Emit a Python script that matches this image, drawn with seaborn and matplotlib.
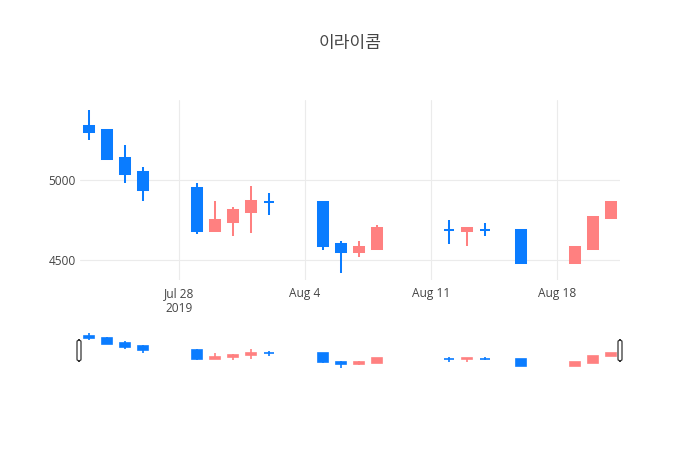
import numpy as np
import pandas as pd
import matplotlib
matplotlib.use("Agg")
import matplotlib.pyplot as plt
import matplotlib.dates as mdates
from matplotlib.patches import FancyBboxPatch
import seaborn as sns

# ---- data ----
dates = ['2019-07-23', '2019-07-24', '2019-07-25', '2019-07-26', '2019-07-29',
         '2019-07-30', '2019-07-31', '2019-08-01', '2019-08-02', '2019-08-05',
         '2019-08-06', '2019-08-07', '2019-08-08', '2019-08-12', '2019-08-13',
         '2019-08-14', '2019-08-16', '2019-08-19', '2019-08-20', '2019-08-21']
open_ = [5340, 5310, 5140, 5050, 4950, 4680, 4740, 4800, 4860, 4860,
         4600, 4550, 4570, 4690, 4680, 4690, 4690, 4480, 4570, 4760]
high = [5440, 5320, 5220, 5080, 4980, 4870, 4830, 4960, 4920, 4860,
        4620, 4620, 4720, 4750, 4700, 4730, 4690, 4580, 4770, 4860]
low = [5250, 5130, 4980, 4870, 4660, 4680, 4650, 4670, 4780, 4560,
       4420, 4520, 4570, 4600, 4590, 4650, 4480, 4480, 4570, 4760]
close = [5300, 5130, 5040, 4940, 4680, 4750, 4810, 4870, 4860, 4590,
         4550, 4580, 4700, 4690, 4700, 4690, 4480, 4580, 4770, 4860]
title = "이라이콤"
yticks = [4500, 5000]
xtick_dates = ['2019-07-28', '2019-08-04', '2019-08-11', '2019-08-18']
xtick_labels = ['Jul 28\n2019', 'Aug 4', 'Aug 11', 'Aug 18']

INC = '#FF8080'
DEC = '#0A7CFF'
TXT = '#444444'

df = pd.DataFrame({'date': pd.to_datetime(dates), 'open': open_, 'high': high,
                   'low': low, 'close': close})
df['x'] = mdates.date2num(df['date'])
df['color'] = np.where(df['close'] > df['open'], INC, DEC)

sns.set_theme(style="white")
plt.rcParams['font.family'] = ['Open Sans', 'DejaVu Sans']

W, H = 700, 450
fig = plt.figure(figsize=(7, 4.5), dpi=100)

def px_axes(l, t, r, b):
    return fig.add_axes([l / W, 1 - b / H, (r - l) / W, (b - t) / H])

ax = px_axes(80, 100, 620, 280)
sl = px_axes(80, 331, 620, 369.5)

xlim = (df['x'].iloc[0] - 0.5, df['x'].iloc[-1] + 0.5)
ylim = (4375, 5500)

def draw_candles(a, lw):
    a.vlines(df['x'], df['low'], df['high'], colors=df['color'], linewidth=lw, zorder=3)
    a.bar(df['x'], df['close'] - df['open'], bottom=df['open'], width=0.52,
          color=df['color'], edgecolor=df['color'], linewidth=lw, zorder=4)

draw_candles(ax, 1.45)
draw_candles(sl, 1.2)

for a in (ax, sl):
    a.set_xlim(*xlim)
    a.set_ylim(*ylim)
    for s in a.spines.values():
        s.set_visible(False)
    a.set_facecolor('white')

# main axes styling
ax.set_yticks(yticks)
ax.set_yticklabels([str(v) for v in yticks])
ax.set_xticks(mdates.date2num(pd.to_datetime(xtick_dates)))
ax.set_xticklabels(xtick_labels)
ax.grid(True, color='#EBEBEB', linewidth=0.8, zorder=0)
ax.set_axisbelow(True)
ax.tick_params(axis='both', length=0, labelsize=8.6, colors=TXT)
ax.tick_params(axis='y', pad=3)
ax.tick_params(axis='x', pad=5)
for t in ax.get_xticklabels():
    t.set_linespacing(1.25)

sl.set_xticks([])
sl.set_yticks([])
sl.grid(False)

# range slider grabbers
for xp in (79, 620):
    fig.patches.append(FancyBboxPatch(((xp - 2) / W, 1 - 361 / H), 4 / W, 21 / H,
                                      boxstyle="round,pad=0,rounding_size=0.004",
                                      transform=fig.transFigure, facecolor='white',
                                      edgecolor='#333333', linewidth=0.9))

fig.text(0.5, 1 - 43 / H, title, ha='center', va='center', fontsize=12.3,
         color=TXT, family=['Noto Sans CJK KR', 'DejaVu Sans'])

fig.savefig('out.png', dpi=100, facecolor='white')
